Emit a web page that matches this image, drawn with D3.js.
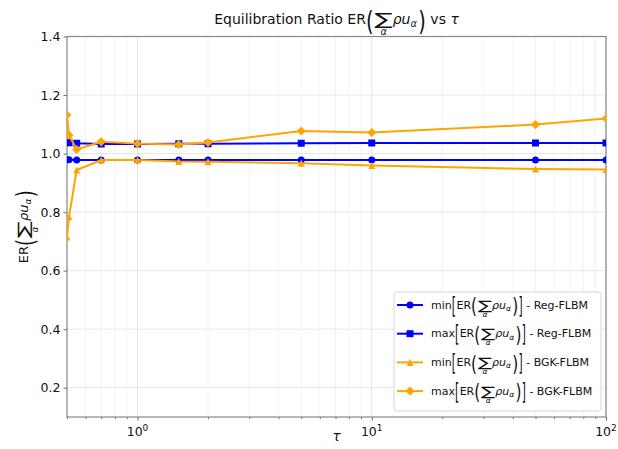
<!DOCTYPE html>
<html>
<head>
<meta charset="utf-8">
<script src="https://cdn.jsdelivr.net/npm/d3@7"></script>
<style>
body { margin: 0; background: #fff; }
text { font-family: "DejaVu Sans", sans-serif; fill: #111; white-space: pre; }
</style>
</head>
<body>
<svg id="chart" width="618" height="449"></svg>
<script>
// data
var tau = [0.5, 0.51, 0.55, 0.7, 1, 1.5, 2, 5, 10, 50, 100];
var minReg = [0.979, 0.979, 0.978, 0.978, 0.978, 0.978, 0.978, 0.978, 0.978, 0.978, 0.978];
var maxReg = [1.038, 1.037, 1.035, 1.033, 1.033, 1.034, 1.034, 1.035, 1.036, 1.036, 1.036];
var minBGK = [0.715, 0.784, 0.944, 0.978, 0.978, 0.973, 0.972, 0.967, 0.959, 0.947, 0.946];
var maxBGK = [1.132, 1.063, 1.014, 1.040, 1.034, 1.031, 1.038, 1.077, 1.072, 1.099, 1.120];
var yTicks = [0.2, 0.4, 0.6, 0.8, 1.0, 1.2, 1.4];
var xTicks = [1, 10, 100];
var seriesNames = ["min", "max", "min", "max"];
var seriesModels = ["Reg-FLBM", "Reg-FLBM", "BGK-FLBM", "BGK-FLBM"];

var W = 618, H = 449;
var margin = {left: 67, right: 12, top: 36.5, bottom: 32};
var pw = W - margin.left - margin.right, ph = H - margin.top - margin.bottom;

var svg = d3.select("#chart");
var x = d3.scaleLog().domain([0.5, 100]).range([0, pw]);
var y = d3.scaleLinear().domain([0.1, 1.4]).range([ph, 0]);

var g = svg.append("g").attr("transform", "translate(" + margin.left + "," + margin.top + ")");

// grid
var minorX = x.ticks().filter(function(d){ return xTicks.indexOf(d) < 0; });
g.append("g").selectAll("line").data(minorX).enter().append("line")
	.attr("x1", x).attr("x2", x).attr("y1", 0).attr("y2", ph)
	.attr("stroke", "#f0f0f0").attr("stroke-width", 0.8);
g.append("g").selectAll("line").data(xTicks).enter().append("line")
	.attr("x1", x).attr("x2", x).attr("y1", 0).attr("y2", ph)
	.attr("stroke", "#e6e6e6").attr("stroke-width", 1);
g.append("g").selectAll("line").data(yTicks).enter().append("line")
	.attr("y1", y).attr("y2", y).attr("x1", 0).attr("x2", pw)
	.attr("stroke", "#e6e6e6").attr("stroke-width", 1);

// axes
var yAxis = g.append("g").call(d3.axisLeft(y).tickValues(yTicks).tickFormat(d3.format(".1f")).tickSize(3.5).tickPadding(3));
g.append("g").attr("transform", "translate(0," + ph + ")")
	.call(d3.axisBottom(x).tickValues(xTicks).tickFormat("").tickSize(3.5));
g.append("g").attr("transform", "translate(0," + ph + ")")
	.call(d3.axisBottom(x).tickValues(minorX).tickFormat("").tickSize(2));
g.selectAll(".domain").remove();
g.selectAll(".tick line").attr("stroke", "#444").attr("stroke-width", 0.8);
yAxis.selectAll("text").attr("font-size", 12.5).attr("font-family", "DejaVu Sans").attr("fill", "#111");

xTicks.forEach(function(d){
	var t = g.append("text").attr("x", x(d)).attr("y", ph + 19).attr("text-anchor", "middle").attr("font-size", 12.5);
	t.append("tspan").text("10");
	t.append("tspan").attr("font-size", 9).attr("dy", -5).text(Math.round(Math.log10(d)));
});

// spines
g.append("rect").attr("width", pw).attr("height", ph).attr("fill", "none")
	.attr("stroke", "#888").attr("stroke-width", 1.2);

// clip
svg.append("clipPath").attr("id", "clip").append("rect").attr("width", pw).attr("height", ph);

function markerPath(kind, s) {
	var h = s / 2;
	if (kind == "o") return d3.symbol(d3.symbolCircle, Math.PI * h * h)();
	if (kind == "s") return "M" + (-h) + "," + (-h) + "H" + h + "V" + h + "H" + (-h) + "Z";
	if (kind == "^") return "M0," + (-h) + "L" + h + "," + h + "L" + (-h) + "," + h + "Z";
	var d = h * 1.3;
	return "M0," + (-d) + "L" + d + ",0L0," + d + "L" + (-d) + ",0Z";
}

var series = [
	{vals: minReg, color: "#0000ff", m: "o"},
	{vals: maxReg, color: "#0000ff", m: "s"},
	{vals: minBGK, color: "#ffa500", m: "^"},
	{vals: maxBGK, color: "#ffa500", m: "D"}
];
var plot = g.append("g").attr("clip-path", "url(#clip)");
var line = d3.line().x(function(d){ return x(d[0]); }).y(function(d){ return y(d[1]); });
series.forEach(function(s){
	var pts = tau.map(function(t, i){ return [t, s.vals[i]]; });
	plot.append("path").datum(pts).attr("d", line).attr("fill", "none")
		.attr("stroke", s.color).attr("stroke-width", 2);
	plot.selectAll(null).data(pts).enter().append("path")
		.attr("transform", function(d){ return "translate(" + x(d[0]) + "," + y(d[1]) + ")"; })
		.attr("d", markerPath(s.m, 7)).attr("fill", s.color);
});

// text formula helper: pieces laid out left to right
function drawFormula(grp, s, pieces) {
	var cx = 0, lastX = 0, lastW = 0;
	pieces.forEach(function(p){
		var k = p.k || 1, sx = p.sx || 1;
		var t = grp.append("text").attr("font-size", k * s).text(p.t);
		if (p.it) t.attr("font-style", "italic");
		var w = t.node().getComputedTextLength() * sx;
		var px = p.under ? lastX + (lastW - w) / 2 : cx + (p.pre || 0) * s;
		t.attr("transform", "translate(" + px + "," + ((p.dy || 0) * s) + ") scale(" + sx + ",1)");
		if (!p.under) { lastX = px; lastW = w; cx = px + w + (p.gap || 0) * s; }
	});
	return cx;
}
var ER = [
	{t: "ER"},
	{t: "(", k: 1.85, dy: 0.43, sx: 0.75, gap: 0.08},
	{t: "∑", k: 1.2, dy: 0.1, sx: 1.6},
	{t: "α", k: 0.7, dy: 0.75, it: 1, under: 1},
	{t: "ρu", it: 1},
	{t: "α", k: 0.7, dy: 0.22, it: 1, gap: 0.1},
	{t: ")", k: 1.85, dy: 0.43, sx: 0.75}
];
function centered(parent, cx, cy, s, pieces, rot) {
	var outer = parent.append("g").attr("transform", "translate(" + cx + "," + cy + ")" + (rot ? " rotate(" + rot + ")" : ""));
	var inner = outer.append("g");
	var w = drawFormula(inner, s, pieces);
	inner.attr("transform", "translate(" + (-w / 2) + ",0)");
}

// title, axis labels
centered(svg, margin.left + pw / 2, 24, 14,
	[{t: "Equilibration Ratio "}].concat(ER, [{t: " vs "}, {t: "τ", it: 1}]));
centered(svg, margin.left + pw / 2, 441, 13.5, [{t: "τ", it: 1}]);
centered(svg, 28, margin.top + ph / 2, 13, ER, -90);

// legend
var lg = svg.append("g").attr("transform", "translate(394,292)");
lg.append("rect").attr("width", 207).attr("height", 119).attr("rx", 3)
	.attr("fill", "#fff").attr("fill-opacity", 0.8).attr("stroke", "#d6d6d6").attr("stroke-width", 1);
series.forEach(function(s, i){
	var cy = 13 + i * 28.7;
	lg.append("line").attr("x1", 3).attr("x2", 29).attr("y1", cy).attr("y2", cy)
		.attr("stroke", s.color).attr("stroke-width", 2);
	lg.append("path").attr("transform", "translate(16," + cy + ")").attr("d", markerPath(s.m, 7)).attr("fill", s.color);
	var tg = lg.append("g").attr("transform", "translate(37," + (cy + 3.5) + ")");
	drawFormula(tg, 11, [{t: seriesNames[i]}, {t: "[", k: 2.15, dy: 0.48, sx: 0.45, gap: 0.05}]
		.concat(ER, [{t: "]", k: 2.15, dy: 0.48, sx: 0.45, pre: 0.03}, {t: " - " + seriesModels[i]}]));
});
</script>
</body>
</html>
